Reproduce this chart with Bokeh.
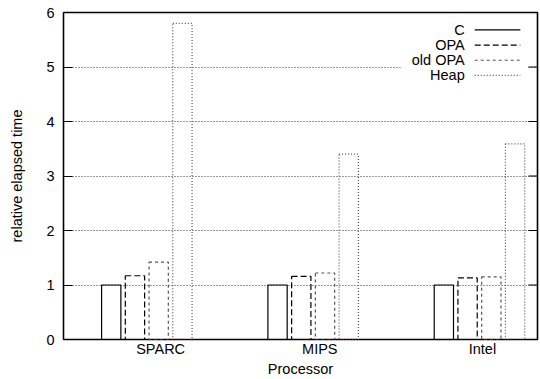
from bokeh.plotting import figure
from bokeh.models import FixedTicker, ColumnDataSource
from bokeh.core.properties import value
from bokeh.embed import file_html
from bokeh.resources import INLINE

# ---- data ----
processors = ["SPARC", "MIPS", "Intel"]
series_names = ["C", "OPA", "old OPA", "Heap"]
c_vals = [1.00, 1.00, 1.00]
opa_vals = [1.17, 1.16, 1.13]
old_opa_vals = [1.42, 1.22, 1.15]
heap_vals = [5.80, 3.40, 3.59]
label_ticks = [0.083, 1.040, 2.018]
y_ticks = [0, 1, 2, 3, 4, 5, 6]

FONT = "Liberation Sans"
FS = "14.5px"
X0, X1 = -0.501, 2.349

p = figure(width=540, height=379, output_backend="svg", toolbar_location=None,
           x_range=(X0, X1), y_range=(0, 6),
           min_border_left=63, min_border_right=3, min_border_top=12, min_border_bottom=39)
p.background_fill_color = "white"
p.border_fill_color = "white"
p.outline_line_color = "black"
p.outline_line_width = 1.6

# axes
p.xaxis.ticker = FixedTicker(ticks=label_ticks)
p.xaxis.major_label_overrides = {t: n for t, n in zip(label_ticks, processors)}
p.xaxis.axis_label = "Processor"
p.xaxis.major_tick_in = 0
p.xaxis.major_tick_out = 0
p.xaxis.minor_tick_line_color = None
p.xaxis.axis_line_color = None
p.xaxis.major_label_standoff = 1
p.xaxis.axis_label_standoff = 1

p.yaxis.ticker = FixedTicker(ticks=y_ticks)
p.yaxis.axis_label = "relative elapsed time"
p.yaxis.major_tick_in = 9
p.yaxis.major_tick_out = 0
p.yaxis.major_tick_line_width = 1.2
p.yaxis.minor_tick_line_color = None
p.yaxis.axis_line_color = None
p.yaxis.major_label_standoff = 9
p.yaxis.axis_label_standoff = 18

for ax in (p.xaxis, p.yaxis):
    ax.major_label_text_font = FONT
    ax.major_label_text_font_size = FS
    ax.major_label_text_color = "black"
    ax.axis_label_text_font = FONT
    ax.axis_label_text_font_size = FS
    ax.axis_label_text_font_style = "normal"
    ax.axis_label_text_color = "black"

p.xgrid.grid_line_color = None
p.ygrid.grid_line_color = "#333333"
p.ygrid.grid_line_dash = "1 2"
p.ygrid.grid_line_width = 1

px_x = 166.1  # pixels per x unit
px_y = 54.67  # pixels per y unit

# mirrored ticks on the right border
p.segment(x0=[X1] * len(y_ticks), y0=y_ticks, x1=[X1 - 9 / px_x] * len(y_ticks), y1=y_ticks,
          line_color="black", line_width=1.2)

# bars
step = 0.1427
bw = 0.116
styles = [
    dict(line_color="black", line_dash="solid"),
    dict(line_color="black", line_dash="6 3"),
    dict(line_color="#555555", line_dash="3 3"),
    dict(line_color="#555555", line_dash="1 2"),
]
all_vals = [c_vals, opa_vals, old_opa_vals, heap_vals]
for k, (vals, st) in enumerate(zip(all_vals, styles)):
    xs = [i + (k - 1.5) * step for i in range(len(processors))]
    src = ColumnDataSource(dict(x=xs, top=vals))
    p.vbar(x="x", top="top", bottom=0, width=bw, source=src, fill_alpha=0,
           line_width=1.2, **st)

# legend (gnuplot style: right-aligned text, then line sample)
p.quad(left=[X0 + (400 - 63.3) / px_x], right=[X0 + (527 - 63.3) / px_x],
       bottom=[(340 - 82) / px_y], top=[(340 - 20) / px_y],
       fill_color="white", line_color=None)
text_x = X0 + (464 - 63.3) / px_x
l0 = X0 + (474 - 63.3) / px_x
l1 = X0 + (519.5 - 63.3) / px_x
row_px = [29.5, 44.7, 59.9, 75.1]
for name, py, st in zip(series_names, row_px, styles):
    yy = (340 - py) / px_y
    p.text(x=[text_x], y=[yy], text=[name], text_align="right", text_baseline="middle",
           text_font=value(FONT), text_font_size=FS, text_color="black")
    p.segment(x0=[l0], y0=[yy], x1=[l1], y1=[yy], line_width=1.2, **st)

open("out.html", "w").write(file_html(p, INLINE))
